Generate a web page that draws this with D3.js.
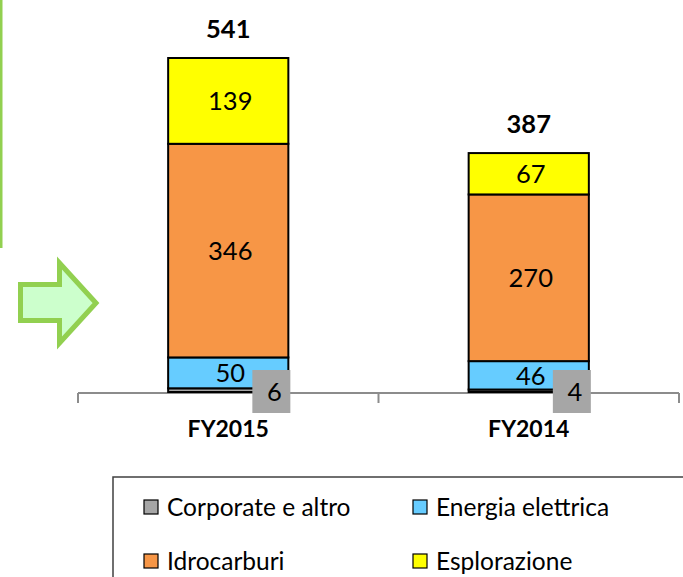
<!DOCTYPE html>
<html>
<head>
<meta charset="utf-8">
<script src="https://cdn.jsdelivr.net/npm/d3@7"></script>
<style>
  body { margin: 0; background: #fff; }
  svg { display: block; font-family: Lato, "Open Sans", sans-serif; }
</style>
</head>
<body>
<svg id="chart" width="683" height="577"></svg>
<script>
const categories = ['FY2015', 'FY2014']
const seriesNames = ['Corporate e altro', 'Energia elettrica', 'Idrocarburi', 'Esplorazione']
const corporate = [6, 4]
const energia = [50, 46]
const idrocarburi = [346, 270]
const esplorazione = [139, 67]
const totals = [541, 387]
const colors = ['#a6a6a6', '#66ccff', '#f79646', '#ffff00']

const svg = d3.select('#chart')

// rows for the stack
const rows = categories.map((c, i) => ({
    cat: c,
    'Corporate e altro': corporate[i],
    'Energia elettrica': energia[i],
    'Idrocarburi': idrocarburi[i],
    'Esplorazione': esplorazione[i],
    total: totals[i],
}))

const x = d3.scaleBand().domain(categories).range([78, 679]).paddingInner(0.6).paddingOuter(0.3)
const y = d3.scaleLinear().domain([0, 541]).range([392, 58])
const color = d3.scaleOrdinal().domain(seriesNames).range(colors)

const stack = d3.stack().keys(seriesNames)(rows)

// green side line + arrow (decoration)
svg.append('rect').attr('x', 0).attr('y', 0).attr('width', 2.5).attr('height', 248).attr('fill', '#92d050')
svg.append('path')
    .attr('d', 'M20.5,284.5 L59.5,284.5 L59.5,263 L96,303 L59.5,343 L59.5,320.5 L20.5,320.5 Z')
    .attr('fill', '#ccffcc')
    .attr('stroke', '#92d050')
    .attr('stroke-width', 5)

// axis line with ticks at band edges
const axisY = y(0) + 1
const edges = [x.range()[0], x(categories[0]) + x.bandwidth() + (x.step() - x.bandwidth()) / 2, x.range()[1]]
svg.append('line')
    .attr('x1', edges[0]).attr('x2', edges[2])
    .attr('y1', axisY).attr('y2', axisY)
    .attr('stroke', '#8c8c8c').attr('stroke-width', 2)
svg.selectAll('.tick')
    .data(edges)
    .enter()
    .append('line')
    .attr('x1', (d) => d).attr('x2', (d) => d)
    .attr('y1', axisY).attr('y2', axisY + 10)
    .attr('stroke', '#8c8c8c').attr('stroke-width', 2)

// bars
const layers = svg.selectAll('.layer')
    .data(stack)
    .enter()
    .append('g')
    .attr('fill', (d) => color(d.key))

layers.selectAll('rect')
    .data((d) => d)
    .enter()
    .append('rect')
    .attr('x', (d) => x(d.data.cat))
    .attr('y', (d) => y(d[1]))
    .attr('width', x.bandwidth())
    .attr('height', (d) => y(d[0]) - y(d[1]))
    .attr('stroke', '#000')
    .attr('stroke-width', 2)

// labels inside segments (skip the small corporate one)
stack.slice(1).forEach((layer) => {
    svg.selectAll(null)
        .data(layer)
        .enter()
        .append('text')
        .attr('x', (d) => x(d.data.cat) + x.bandwidth() / 2 + 2)
        .attr('y', (d) => (y(d[0]) + y(d[1])) / 2)
        .attr('dy', '0.36em')
        .attr('text-anchor', 'middle')
        .attr('font-size', 25.5)
        .attr('fill', '#000')
        .text((d) => d[1] - d[0])
})

// gray callout for corporate values
const callout = svg.selectAll('.callout')
    .data(rows)
    .enter()
    .append('g')
    .attr('transform', (d) => 'translate(' + (x(d.cat) + x.bandwidth() - 17) + ',' + y(0) + ')')
callout.append('rect')
    .attr('x', -19).attr('y', -22)
    .attr('width', 38).attr('height', 43)
    .attr('fill', '#a6a6a6')
callout.append('text')
    .attr('x', 3)
    .attr('dy', '0.36em')
    .attr('text-anchor', 'middle')
    .attr('font-size', 25.5)
    .text((d) => d['Corporate e altro'])

// totals
svg.selectAll('.total')
    .data(rows)
    .enter()
    .append('text')
    .attr('x', (d) => x(d.cat) + x.bandwidth() / 2)
    .attr('y', (d) => y(d.total) - 20)
    .attr('text-anchor', 'middle')
    .attr('font-size', 25.5)
    .attr('font-weight', 'bold')
    .text((d) => d.total)

// category labels
svg.selectAll('.cat')
    .data(categories)
    .enter()
    .append('text')
    .attr('x', (d) => x(d) + x.bandwidth() / 2)
    .attr('y', axisY + 44)
    .attr('text-anchor', 'middle')
    .attr('font-size', 23)
    .attr('font-weight', 'bold')
    .text((d) => d)

// legend
svg.append('rect')
    .attr('x', 113).attr('y', 477)
    .attr('width', 600).attr('height', 150)
    .attr('fill', 'none')
    .attr('stroke', '#404040').attr('stroke-width', 1.5)

const legendPos = [[144, 500], [413, 500], [144, 554], [413, 554]]
const legend = svg.selectAll('.leg')
    .data(seriesNames)
    .enter()
    .append('g')
    .attr('transform', (d, i) => 'translate(' + legendPos[i][0] + ',' + legendPos[i][1] + ')')
legend.append('rect')
    .attr('width', 14).attr('height', 14)
    .attr('fill', (d) => color(d))
    .attr('stroke', '#000').attr('stroke-width', 1.2)
legend.append('text')
    .attr('x', 23).attr('y', 7)
    .attr('dy', '0.36em')
    .attr('font-size', 24.5)
    .text((d) => d)
</script>
</body>
</html>
